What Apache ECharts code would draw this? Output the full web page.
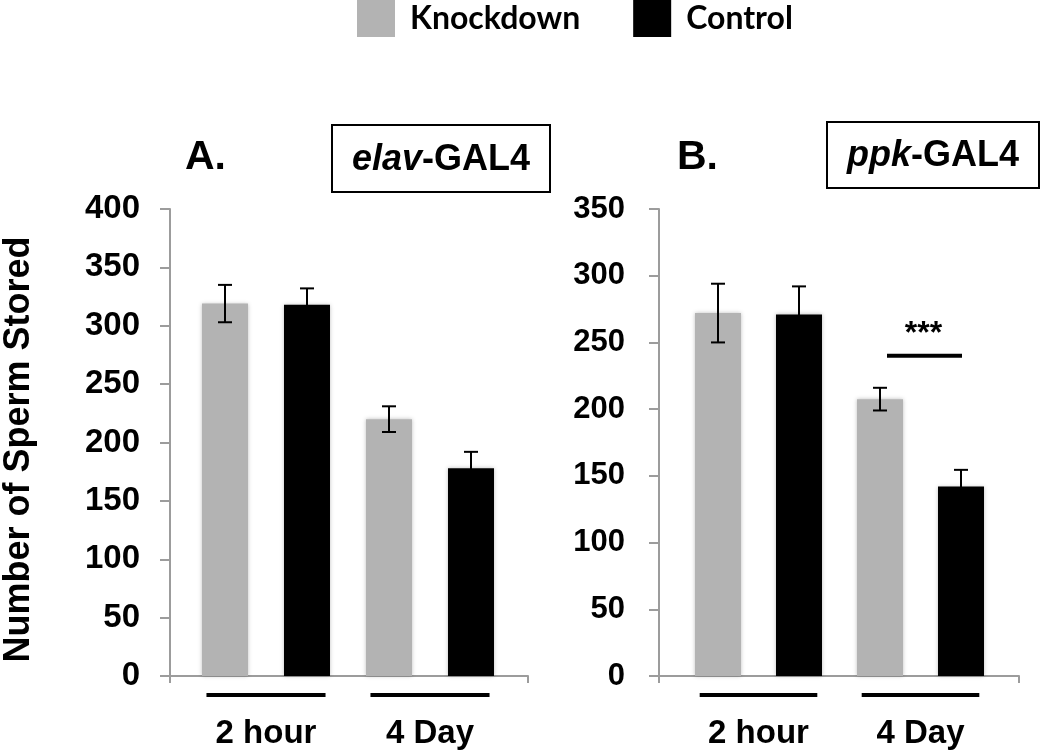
<!DOCTYPE html>
<html>
<head>
<meta charset="utf-8">
<script src="https://cdn.jsdelivr.net/npm/echarts@6/dist/echarts.min.js"></script>
<style>
html,body{margin:0;padding:0;background:#fff;}
#chart{width:1050px;height:753px;}
</style>
</head>
<body>
<div id="chart"></div>
<script>
// ---- data ----
const categories = ['2 hour', '4 Day'];
const seriesNames = ['Knockdown', 'Control'];
const yTitle = 'Number of Sperm Stored';

const elavKnockdown = [319, 220];
const elavKnockdownErr = [16, 11];
const elavControl = [318, 178];
const elavControlErr = [14, 14];
const elavMax = 400;

const ppkKnockdown = [272, 207.5];
const ppkKnockdownErr = [22, 8.5];
const ppkControl = [271, 142];
const ppkControlErr = [21, 12.5];
const ppkMax = 350;

const yInterval = 50;
const sigCategory = 1;      // 4 Day
const sigLevel = 240;       // height of the significance line (value units)
const sigText = '***';

// ---- styling ----
const FONT = '"Liberation Sans", Arial, sans-serif';
const GRAY = '#b3b3b3';
const BLACK = '#000000';
const AXIS = '#9c9c9c';

function errData(vals, errs, side) {
  return vals.map((v, i) => [i, v, errs[i], side]);
}

function errRender(params, api) {
  const i = api.value(0), v = api.value(1), e = api.value(2), side = api.value(3);
  const band = api.size([1, 0])[0];
  const x = api.coord([i, v])[0] + side * band * 0.25;
  const yTop = api.coord([i, v + e])[1];
  const yBot = api.coord([i, v - e])[1];
  const cap = 7;
  const st = { stroke: BLACK, lineWidth: 2 };
  return {
    type: 'group',
    children: [
      { type: 'line', shape: { x1: x, y1: yTop, x2: x, y2: yBot }, style: st },
      { type: 'line', shape: { x1: x - cap, y1: yTop, x2: x + cap, y2: yTop }, style: st },
      { type: 'line', shape: { x1: x - cap, y1: yBot, x2: x + cap, y2: yBot }, style: st }
    ]
  };
}

function underlineRender(params, api) {
  const c = api.coord([api.value(0), 0]);
  const half = api.size([1, 0])[0] * 0.363;
  return {
    type: 'line',
    shape: { x1: c[0] - half, y1: c[1] + 19, x2: c[0] + half, y2: c[1] + 19 },
    style: { stroke: BLACK, lineWidth: 4 }
  };
}

function sigRender(params, api) {
  const c = api.coord([api.value(0), api.value(1)]);
  const cx = c[0] + 4;
  return {
    type: 'group',
    children: [
      { type: 'line', shape: { x1: cx - 37.5, y1: c[1], x2: cx + 37.5, y2: c[1] },
        style: { stroke: BLACK, lineWidth: 4 } },
      { type: 'text', style: { text: sigText, x: cx - 1, y: c[1] - 22, textAlign: 'center',
        textVerticalAlign: 'middle', font: 'bold 32px ' + FONT, fill: BLACK } }
    ]
  };
}

const barShadow = { shadowBlur: 4, shadowColor: 'rgba(0,0,0,0.25)' };

function mainX(gi) {
  return {
    type: 'category', gridIndex: gi, data: categories,
    axisLine: { show: false }, axisTick: { show: false },
    axisLabel: { color: BLACK, fontFamily: FONT, fontWeight: 'bold', fontSize: 33, margin: 41 }
  };
}
function auxX(gi) {
  return {
    type: 'category', gridIndex: gi, data: [''],
    axisLine: { show: true, lineStyle: { color: AXIS, width: 2 } },
    axisTick: { show: true, length: 7, lineStyle: { color: AXIS, width: 2 } },
    axisLabel: { show: false }
  };
}
function mainY(gi, max) {
  return { type: 'value', gridIndex: gi, min: 0, max: max, interval: yInterval, show: false, splitLine: { show: false } };
}
function auxY(gi, max, margin, size, withName) {
  const ax = {
    type: 'value', gridIndex: gi, min: 0, max: max, interval: yInterval,
    axisLine: { show: true, lineStyle: { color: AXIS, width: 2 } },
    axisTick: { show: true, length: 10, lineStyle: { color: AXIS, width: 2 } },
    splitLine: { show: false },
    axisLabel: { color: BLACK, fontFamily: FONT, fontWeight: 'bold', fontSize: size, margin: margin }
  };
  if (withName) {
    ax.name = yTitle;
    ax.nameLocation = 'middle';
    ax.nameRotate = 90;
    ax.nameGap = 133;
    ax.nameTextStyle = { color: BLACK, fontFamily: FONT, fontWeight: 'bold', fontSize: 36, padding: [0, 14, 0, 0] };
  }
  return ax;
}

const titleRich = {
  i: { fontFamily: FONT, fontWeight: 'bold', fontStyle: 'italic', fontSize: 36, color: BLACK, lineHeight: 36 },
  b: { fontFamily: FONT, fontWeight: 'bold', fontSize: 36, color: BLACK, lineHeight: 36 }
};

const option = {
  animation: false,
  backgroundColor: '#ffffff',
  legend: {
    data: seriesNames,
    left: 357, top: 0, padding: 0,
    itemWidth: 38, itemHeight: 37, itemGap: 53,
    icon: 'rect',
    textStyle: { color: BLACK, fontFamily: 'Lato, "Open Sans", sans-serif', fontWeight: 'bold', fontSize: 32, padding: [0, 0, 0, 10] }
  },
  title: [
    { text: 'A.', left: 185, top: 137, padding: 0,
      textStyle: { fontFamily: FONT, fontWeight: 'bold', fontSize: 41, color: BLACK, lineHeight: 41 } },
    { text: '{i|elav}{b|-GAL4}', left: 332, top: 125, padding: [17, 20, 14, 20],
      borderColor: BLACK, borderWidth: 2,
      textStyle: { rich: titleRich } },
    { text: 'B.', left: 677, top: 137, padding: 0,
      textStyle: { fontFamily: FONT, fontWeight: 'bold', fontSize: 41, color: BLACK, lineHeight: 41 } },
    { text: '{i|ppk}{b|-GAL4}', left: 827, top: 122, padding: [16, 20, 14, 20],
      borderColor: BLACK, borderWidth: 2,
      textStyle: { rich: titleRich } }
  ],
  grid: [
    { left: 184, top: 209, width: 328, height: 467 },
    { left: 167, top: 209, width: 361, height: 467 },
    { left: 677.5, top: 209, width: 324, height: 467 },
    { left: 659, top: 209, width: 360, height: 467 }
  ],
  xAxis: [mainX(0), auxX(1), mainX(2), auxX(3)],
  yAxis: [mainY(0, elavMax), auxY(1, elavMax, 30, 33, true), mainY(2, ppkMax), auxY(3, ppkMax, 34, 31, false)],
  series: [
    { name: seriesNames[0], type: 'bar', xAxisIndex: 0, yAxisIndex: 0, data: elavKnockdown,
      barWidth: 46, barGap: '78.26%', itemStyle: Object.assign({ color: GRAY }, barShadow) },
    { name: seriesNames[1], type: 'bar', xAxisIndex: 0, yAxisIndex: 0, data: elavControl,
      barWidth: 46, barGap: '78.26%', itemStyle: Object.assign({ color: BLACK }, barShadow) },
    { name: seriesNames[0], type: 'bar', xAxisIndex: 2, yAxisIndex: 2, data: ppkKnockdown,
      barWidth: 46, barGap: '76.09%', itemStyle: Object.assign({ color: GRAY }, barShadow) },
    { name: seriesNames[1], type: 'bar', xAxisIndex: 2, yAxisIndex: 2, data: ppkControl,
      barWidth: 46, barGap: '76.09%', itemStyle: Object.assign({ color: BLACK }, barShadow) },
    { type: 'custom', xAxisIndex: 0, yAxisIndex: 0, z: 5, renderItem: errRender,
      data: errData(elavKnockdown, elavKnockdownErr, -1).concat(errData(elavControl, elavControlErr, 1)) },
    { type: 'custom', xAxisIndex: 2, yAxisIndex: 2, z: 5, renderItem: errRender,
      data: errData(ppkKnockdown, ppkKnockdownErr, -1).concat(errData(ppkControl, ppkControlErr, 1)) },
    { type: 'custom', xAxisIndex: 0, yAxisIndex: 0, clip: false, renderItem: underlineRender,
      data: categories.map((c, i) => [i, 0]) },
    { type: 'custom', xAxisIndex: 2, yAxisIndex: 2, clip: false, renderItem: underlineRender,
      data: categories.map((c, i) => [i, 0]) },
    { type: 'custom', xAxisIndex: 2, yAxisIndex: 2, clip: false, renderItem: sigRender,
      data: [[sigCategory, sigLevel]] }
  ]
};

const chart = echarts.init(document.getElementById('chart'), null, { renderer: 'canvas' });
chart.setOption(option);
</script>
</body>
</html>
